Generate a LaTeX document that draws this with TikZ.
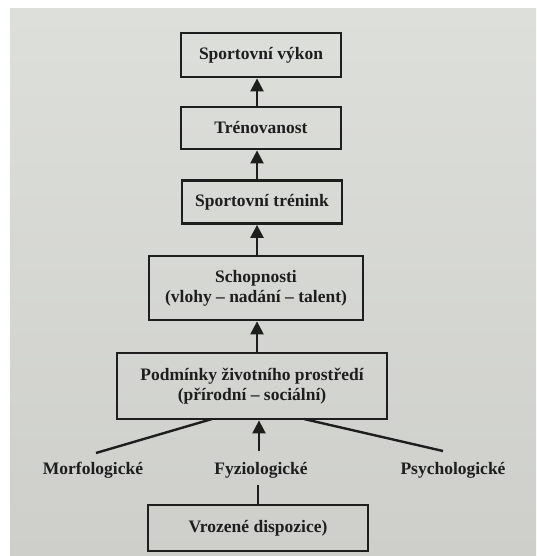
\documentclass[tikz,border=0pt]{standalone}
\usepackage{fontspec}
\setmainfont{Liberation Serif}
\usetikzlibrary{arrows.meta}
\definecolor{ink}{HTML}{1E1E1E}
\definecolor{papertop}{HTML}{DDDFDB}
\definecolor{paperbot}{HTML}{CECFCA}
\tikzset{
  box/.style={draw=ink, line width=2.8pt, minimum height=#1, inner sep=0pt, align=center,
              font=\fontsize{17.5}{20}\selectfont\bfseries, text=ink},
  box/.default=43pt,
  lab/.style={font=\fontsize{17.5}{20}\selectfont\bfseries, text=ink, inner sep=1pt},
  arr/.style={draw=ink, line width=2.4pt, -{Triangle[width=13pt,length=13pt]}},
  ln/.style={draw=ink, line width=2.4pt}
}
\begin{document}
\begin{tikzpicture}[x=1pt,y=-1pt]
\useasboundingbox (0,0) rectangle (536,556);
\fill[white] (0,0) rectangle (536,556);
\shade[top color=papertop, bottom color=paperbot] (10,9) rectangle (536,556);

\node[box=44pt, minimum width=160pt] (b1) at (261,55) {Sportovní výkon};
\node[box=42pt, minimum width=160pt] (b2) at (261,128) {Trénovanost};
\node[box=43pt, minimum width=160pt] (b3) at (262,202) {Sportovní trénink};
\node[box=64pt, minimum width=214pt] (b4) at (256,288) {Schopnosti\\(vlohy – nadání – talent)};
\node[box=66pt, minimum width=270pt] (b5) at (252,386) {Podmínky životního prostředí\\(přírodní – sociální)};
\node[box=46pt, minimum width=220pt] (b6) at (258,528) {Vrozené dispozice)};

\node[lab] (m) at (93,470) {Morfologické};
\node[lab] (f) at (261,470) {Fyziologické};
\node[lab] (p) at (453,470) {Psychologické};

\coordinate (ax) at (257,0);
\coordinate (bx) at (259,0);
\coordinate (ml) at (96,453);
\coordinate (mr) at (212,419);
\coordinate (pl) at (304,419);
\coordinate (pr) at (443,451);
\coordinate (fa) at (259,451);
\coordinate (fb) at (258,485);

\draw[arr] (b2.north -| ax) -- (b1.south -| ax);
\draw[arr] (b3.north -| ax) -- (b2.south -| ax);
\draw[arr] (b4.north -| ax) -- (b3.south -| ax);
\draw[arr] (b5.north -| ax) -- (b4.south -| ax);
\draw[arr] (fa) -- (b5.south -| bx);
\draw[ln] (ml) -- (mr);
\draw[ln] (pl) -- (pr);
\draw[ln] (fb) -- (b6.north -| fb);
\end{tikzpicture}
\end{document}
